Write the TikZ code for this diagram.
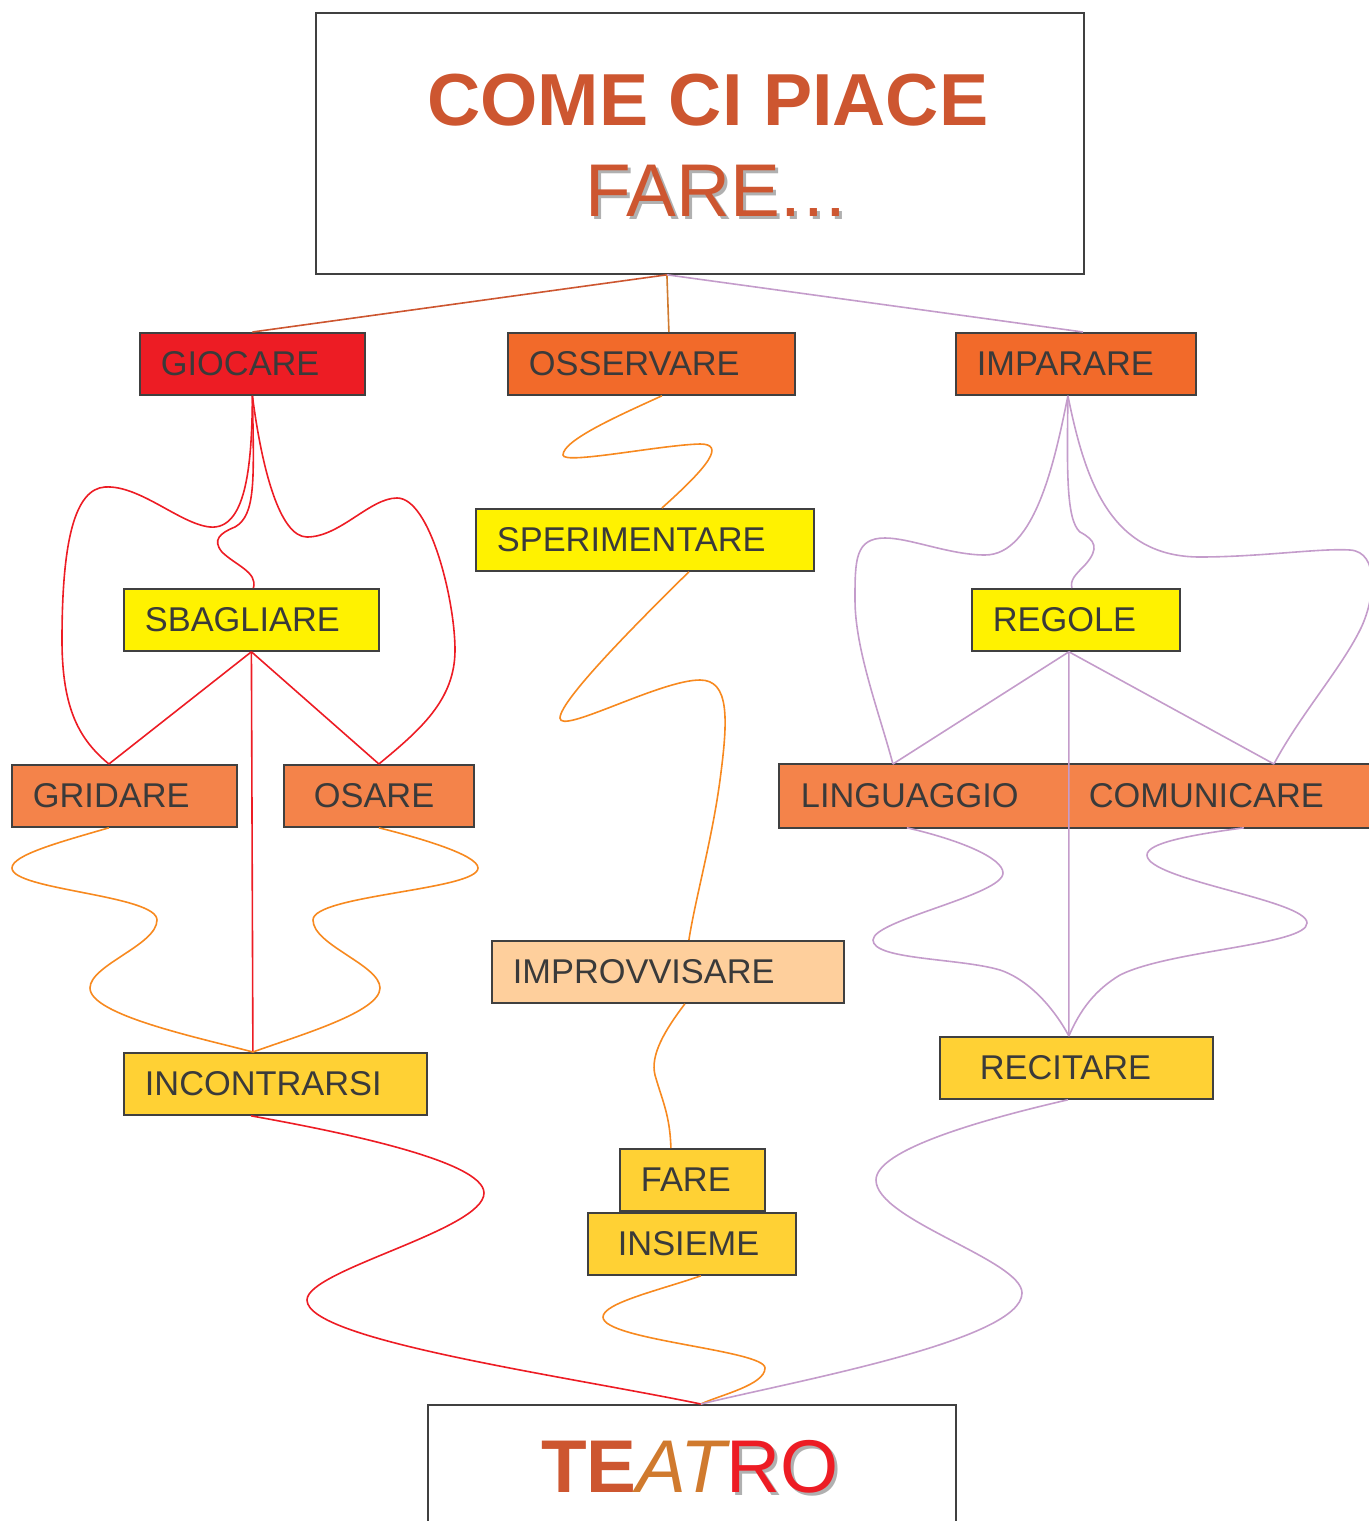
\documentclass[tikz,border=0pt]{standalone}
\usepackage{fontspec}
\setmainfont{Liberation Sans}
\definecolor{mattone}{RGB}{205,86,48}
\definecolor{ocra}{RGB}{208,122,46}
\definecolor{rosso}{RGB}{237,28,36}
\definecolor{arancio}{RGB}{242,106,42}
\definecolor{aranciochiaro}{RGB}{244,131,74}
\definecolor{giallo}{RGB}{255,242,0}
\definecolor{oro}{RGB}{255,209,52}
\definecolor{pesca}{RGB}{254,207,156}
\definecolor{bordo}{RGB}{64,64,64}
\definecolor{testo}{RGB}{58,58,58}
\definecolor{lineaarancio}{RGB}{247,137,31}
\definecolor{lilla}{RGB}{196,156,203}
\definecolor{ombragrigia}{RGB}{176,176,176}
\newcommand{\ombra}[2]{\makebox[0pt][l]{\hspace{3bp}\raisebox{-3bp}{\color{ombragrigia}#2}}{\color{#1}#2}}
\tikzset{
  box/.style={draw=bordo, line width=1.8bp, anchor=north west, minimum height=62bp,
    inner xsep=21bp, inner ysep=0pt, align=left, text=testo,
    font=\fontsize{34.5}{40}\selectfont},
  rossa/.style={draw=rosso, line width=1.6bp},
  arancia/.style={draw=lineaarancio, line width=1.6bp},
  viola/.style={draw=lilla, line width=1.6bp},
}
\begin{document}
\begin{tikzpicture}[x=1bp, y=-1bp]
\useasboundingbox (0,0) rectangle (1369,1521);
\node[box, minimum width=768bp, minimum height=261bp, inner sep=0pt] (titolo) at (315,12) {};
\node[anchor=base west, inner sep=0pt, font=\fontsize{74}{80}\selectfont\bfseries, text=mattone] (come) at (427,126) {COME CI PIACE};
\node[anchor=base west, inner sep=0pt, font=\fontsize{75}{80}\selectfont] (fareTitolo) at (585,216) {\ombra{mattone}{FARE.\kern2bp.\kern2bp.}};

\node[box, fill=rosso, text width=183bp] (gio) at (139,332) {GIOCARE};
\node[box, fill=arancio, text width=245bp] (oss) at (507,332) {OSSERVARE};
\node[box, fill=arancio, text width=198bp] (imp) at (955,332) {IMPARARE};
\node[box, fill=giallo, text width=213bp] (sba) at (123,588) {SBAGLIARE};
\node[box, fill=giallo, text width=296bp] (spe) at (475,508) {SPERIMENTARE};
\node[box, fill=giallo, text width=166bp] (reg) at (971,588) {REGOLE};
\node[box, fill=aranciochiaro, text width=183bp] (grid) at (11,764) {GRIDARE};
\node[box, fill=aranciochiaro, inner xsep=30bp, text width=130bp] (osa) at (283,764) {OSARE};
\node[box, fill=aranciochiaro, draw=none, text width=247bp] (ling) at (779,764) {LINGUAGGIO};
\node[box, fill=aranciochiaro, draw=none, inner xsep=20bp, text width=264bp] (com) at (1068,764) {COMUNICARE};
\draw[draw=bordo, line width=1.8bp] (ling.north west) rectangle (com.south east);
\node[box, fill=pesca, text width=310bp] (impr) at (491,940) {IMPROVVISARE};
\node[box, fill=oro, text width=261bp] (inc) at (123,1052) {INCONTRARSI};
\node[box, fill=oro, inner xsep=40bp, text width=193bp] (rec) at (939,1036) {RECITARE};
\node[box, fill=oro, text width=103bp] (fare) at (619,1148) {FARE};
\node[box, fill=oro, inner xsep=30bp, text width=148bp] (ins) at (587,1212) {INSIEME};
\node[box, minimum width=528bp, minimum height=140bp, inner sep=0pt] (teatro) at (427,1404) {};
\node[anchor=base west, inner sep=0pt, font=\fontsize{75}{80}\selectfont] (teatroScritta) at (541,1492)
  {{\bfseries\color{mattone}TE}{\itshape\color{ocra}AT}\ombra{rosso}{RO}};

\draw[draw=mattone, line width=1.6bp] ([xshift=-33bp]titolo.south) -- (gio.north);
\draw[draw=ocra, line width=1.6bp] ([xshift=-33bp]titolo.south) -- ([xshift=17.5bp]oss.north);
\draw[viola] ([xshift=-33bp]titolo.south) -- ([xshift=7bp]imp.north);

\draw[rossa] (gio.south) .. controls (252,470) and (245,530) .. (210,527)
  .. controls (180,524) and (140,485) .. (105,487) .. controls (75,489) and (62,540) .. (62,640)
  .. controls (62,710) and (80,740) .. ([xshift=-15.5bp]grid.north);
\draw[rossa] (gio.south) .. controls (254,480) and (256,515) .. (235,527)
  .. controls (220,533) and (212,540) .. (222,552) .. controls (235,565) and (258,572) .. ([xshift=2bp]sba.north);
\draw[rossa] (gio.south) .. controls (262,470) and (280,537) .. (307,537)
  .. controls (340,537) and (370,498) .. (397,498) .. controls (430,498) and (455,600) .. (455,650)
  .. controls (455,700) and (420,730) .. (osa.north);
\draw[rossa] (sba.south) -- ([xshift=-15.5bp]grid.north);
\draw[rossa] (sba.south) -- (osa.north);
\draw[rossa] (sba.south) -- ([xshift=-22.5bp]inc.north);
\draw[arancia] ([xshift=-15.5bp]grid.south) .. controls (60,842) and (12,855) .. (12,868)
  .. controls (12,890) and (157,895) .. (157,920) .. controls (157,945) and (90,965) .. (90,988)
  .. controls (90,1015) and (200,1038) .. ([xshift=-22.5bp]inc.north);
\draw[arancia] (osa.south) .. controls (420,838) and (478,855) .. (478,868)
  .. controls (478,890) and (313,895) .. (313,920) .. controls (313,945) and (380,965) .. (380,988)
  .. controls (380,1012) and (300,1035) .. ([xshift=-22.5bp]inc.north);
\draw[rossa] ([xshift=-24.5bp]inc.south) .. controls (330,1130) and (484,1160) .. (484,1193)
  .. controls (484,1230) and (307,1270) .. (307,1300)
  .. controls (307,1340) and (560,1375) .. ([xshift=9bp]teatro.north);

\draw[arancia] ([xshift=10.5bp]oss.south) .. controls (620,415) and (563,440) .. (563,455)
  .. controls (563,465) and (660,445) .. (700,444) .. controls (725,444) and (710,465) .. ([xshift=17bp]spe.north);
\draw[arancia] ([xshift=44bp]spe.south) .. controls (640,620) and (560,700) .. (560,718)
  .. controls (560,735) and (660,680) .. (700,680) .. controls (730,680) and (728,720) .. (720,780)
  .. controls (712,840) and (695,900) .. ([xshift=21bp]impr.north);
\draw[arancia] ([xshift=17bp]impr.south) .. controls (665,1030) and (650,1055) .. (655,1075)
  .. controls (662,1100) and (670,1115) .. ([xshift=-21.5bp]fare.north);
\draw[arancia] ([xshift=9bp]ins.south) .. controls (660,1290) and (603,1303) .. (603,1317)
  .. controls (603,1340) and (765,1350) .. (765,1368)
  .. controls (765,1385) and (720,1395) .. ([xshift=9bp]teatro.north);

\draw[viola] ([xshift=-8bp]imp.south) .. controls (1055,460) and (1035,555) .. (985,555)
  .. controls (950,555) and (910,538) .. (885,538) .. controls (855,538) and (855,560) .. (855,600)
  .. controls (855,650) and (880,715) .. ([xshift=-31.5bp]ling.north);
\draw[viola] ([xshift=-8bp]imp.south) .. controls (1067,470) and (1066,520) .. (1080,532)
  .. controls (1095,540) and (1100,548) .. (1085,565) .. controls (1075,575) and (1070,580) .. ([xshift=-4bp]reg.north);
\draw[viola] ([xshift=-8bp]imp.south) .. controls (1085,480) and (1110,557) .. (1200,557)
  .. controls (1260,557) and (1320,548) .. (1350,550) .. controls (1380,552) and (1375,600) .. (1360,630)
  .. controls (1340,670) and (1300,715) .. ([xshift=53bp]com.north);
\draw[viola] ([xshift=-7bp]reg.south) -- ([xshift=-31.5bp]ling.north);
\draw[viola] ([xshift=-7bp]reg.south) -- ([xshift=53bp]com.north);
\draw[viola] ([xshift=-7bp]reg.south) -- ([xshift=-7.5bp]rec.north);
\draw[viola] ([xshift=-17.5bp]ling.south) .. controls (960,840) and (1003,858) .. (1003,873)
  .. controls (1003,895) and (873,920) .. (873,940) .. controls (873,960) and (960,958) .. (1000,970)
  .. controls (1030,980) and (1055,1010) .. ([xshift=-7.5bp]rec.north);
\draw[viola] ([xshift=23bp]com.south) .. controls (1190,835) and (1147,843) .. (1147,855)
  .. controls (1147,880) and (1307,900) .. (1307,923) .. controls (1307,945) and (1170,950) .. (1120,975)
  .. controls (1095,990) and (1080,1010) .. ([xshift=-7.5bp]rec.north);
\draw[viola] ([xshift=-8.5bp]rec.south) .. controls (980,1120) and (876,1150) .. (876,1180)
  .. controls (876,1220) and (1022,1260) .. (1022,1293)
  .. controls (1022,1340) and (800,1380) .. ([xshift=9bp]teatro.north);
\end{tikzpicture}
\end{document}
